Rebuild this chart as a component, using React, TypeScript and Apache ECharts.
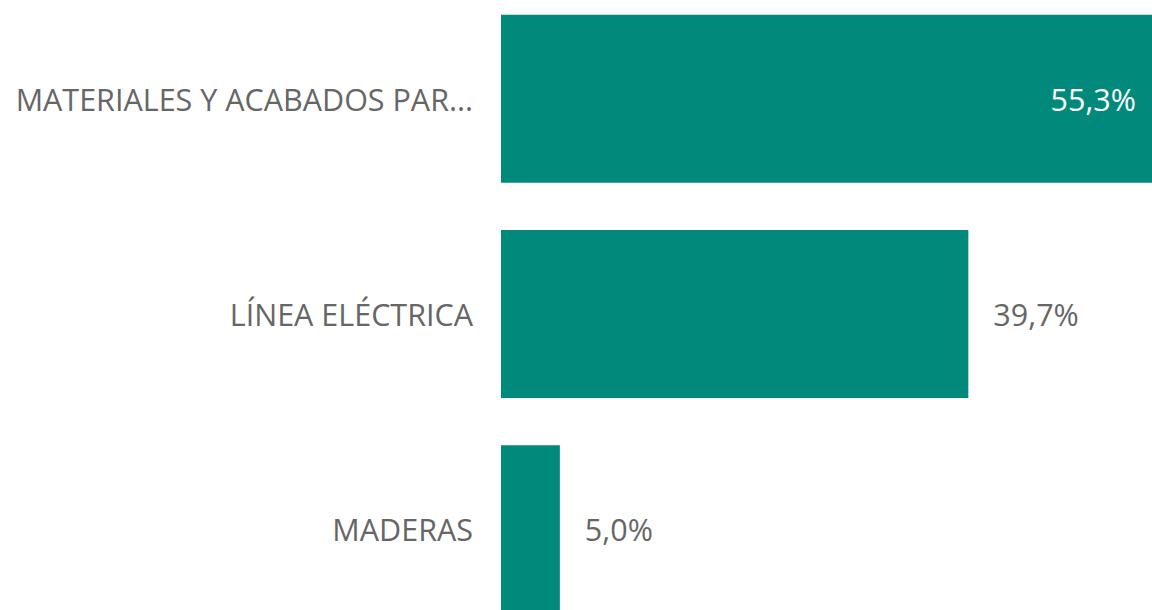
import React, { useEffect, useRef } from "react";
import * as echarts from "echarts";

const categories = ["MATERIALES Y ACABADOS PAR...", "LÍNEA ELÉCTRICA", "MADERAS"];
const values = [55.3, 39.7, 5.0];

export default function App() {
  const ref = useRef<HTMLDivElement>(null);
  useEffect(() => {
    const chart = echarts.init(ref.current!, null, { renderer: "svg" });
    const fmt = (v: number) => v.toFixed(1).replace(".", ",") + "%";
    chart.setOption({
      animation: false,
      grid: { left: 501, right: 0, top: 0, bottom: 0, containLabel: false },
      xAxis: { type: "value", min: 0, max: 55.3, show: false },
      yAxis: {
        type: "category",
        inverse: true,
        data: categories,
        axisLine: { show: false },
        axisTick: { show: false },
        axisLabel: { color: "#666666", fontSize: 30.5, fontFamily: "Open Sans", margin: 28 },
      },
      series: [
        {
          type: "bar",
          barCategoryGap: "22%",
          itemStyle: { color: "#01897B" },
          data: values.map((v, i) => ({
            value: v,
            label: i === 0
              ? { show: true, position: "insideRight", distance: 16, color: "#ffffff" }
              : { show: true, position: "right", distance: 25, color: "#666666" },
          })),
          label: {
            show: true,
            fontSize: 30.5,
            fontFamily: "Open Sans",
            formatter: (p: any) => fmt(p.value),
          },
        },
      ],
    });
    return () => chart.dispose();
  }, []);
  return (
    <div style={{ position: "absolute", left: 0, top: 0, width: 1152, height: 610, overflow: "hidden" }}>
      <div ref={ref} style={{ width: 1152, height: 646, position: "absolute", left: 0, top: -9 }} />
    </div>
  );
}
